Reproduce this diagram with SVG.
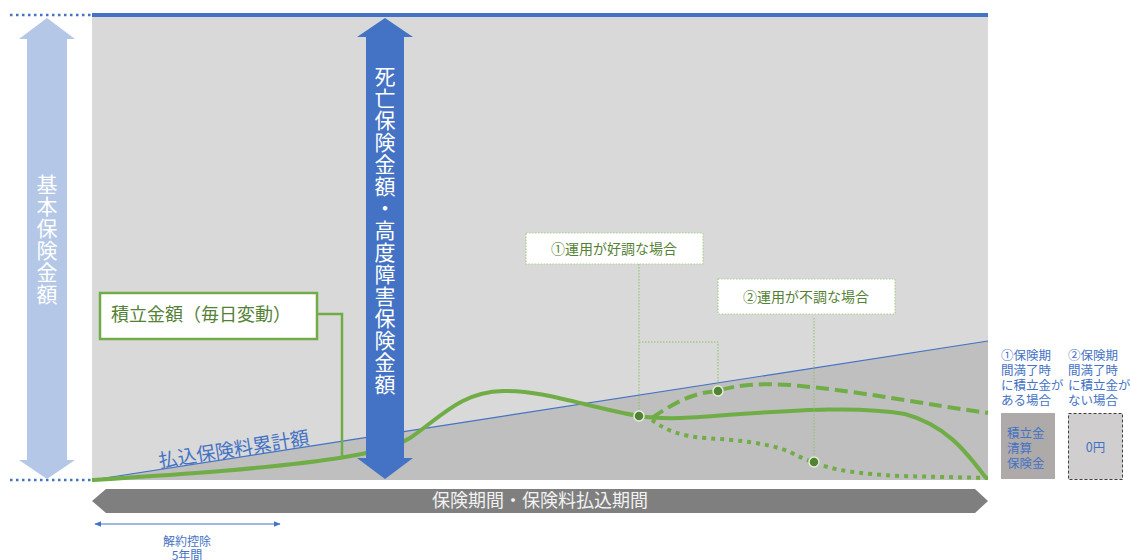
<svg xmlns="http://www.w3.org/2000/svg" width="1130" height="560" viewBox="0 0 1130 560">
<style>
.jp{font-family:"Noto Sans CJK JP","Noto Sans",sans-serif}
.vt{writing-mode:vertical-rl;fill:#ffffff;font-size:21px;letter-spacing:1px}
.cl{fill:#ffffff;stroke:#a9d18e;stroke-width:1.2;stroke-dasharray:1.5 1.5}
.ct{fill:#548235;font-size:14px;text-anchor:middle}
.lead{fill:none;stroke:#8cc06a;stroke-width:1;stroke-dasharray:1.5 1.5}
.curve{fill:none;stroke:#70ad47;stroke-width:4}
.dot{fill:#548235;stroke:#e2efda;stroke-width:1.5}
.rt{fill:#4472c4;font-size:12.5px}
</style>
<defs>
<marker id="ah" viewBox="0 0 10 10" refX="9" refY="5" markerWidth="7" markerHeight="7" orient="auto-start-reverse" markerUnits="userSpaceOnUse">
<path d="M0,1 L10,5 L0,9 Z" fill="#4472c4"/>
</marker>
</defs>

<g id="background">
<rect x="92" y="15" width="896" height="465" fill="#d9d9d9"/>
<polygon points="92,480 988,341 988,480" fill="#bfbfbf"/>
<line x1="92" y1="15" x2="988" y2="15" stroke="#4472c4" stroke-width="4"/>
<line x1="10" y1="15" x2="92" y2="15" stroke="#4472c4" stroke-width="2.5" stroke-dasharray="2.5 3.5"/>
<line x1="10" y1="480" x2="92" y2="480" stroke="#4472c4" stroke-width="2.5" stroke-dasharray="2.5 3.5"/>
</g>

<g id="premium-line">
<line x1="92" y1="480" x2="988" y2="341" stroke="#4472c4" stroke-width="1.2"/>
<text class="jp" transform="translate(234,450) rotate(-9)" x="0" y="6" text-anchor="middle" font-size="19" fill="#4472c4">払込保険料累計額</text>
</g>

<g id="connectors">
<path class="curve" d="M92,480 C170,475 280,468 345,457 C375,452 395,447 410,438 C440,418 460,392 503,391 C545,390 590,408 639,416 C665,420 690,418 740,414 C800,410 860,406 905,414 C945,425 965,450 986,478"/>
<path class="curve" stroke-dasharray="13 6" d="M652,418 C675,402 695,392 718,391 C735,385 760,383 790,385 C860,391 930,405 988,413"/>
<path class="curve" stroke-dasharray="4 5" d="M652,420 C665,430 680,436 705,438 C735,440 765,442 790,452 C800,457 806,460 814,462 C830,470 860,474 900,476 L988,478"/>
<polyline points="317,314 342,314 342,458" fill="none" stroke="#70ad47" stroke-width="2.5"/>
<polyline class="lead" points="639,264 639,416"/>
<polyline class="lead" points="639,342 718,342 718,391"/>
<polyline class="lead" points="814,318 814,462"/>
<line x1="95" y1="524" x2="280" y2="524" stroke="#4472c4" stroke-width="1.2" marker-start="url(#ah)" marker-end="url(#ah)"/>
</g>

<g id="base-amount-arrow">
<polygon points="47,18 75,39 67,39 67,460 75,460 47,479 19,460 27,460 27,39 19,39" fill="#b4c7e7"/>
<text class="jp vt" x="47" y="174">基本保険金額</text>
</g>

<g id="death-benefit-arrow">
<polygon points="385,18 413,37 404,37 404,458 413,458 385,479 357,458 366,458 366,37 357,37" fill="#4472c4"/>
<text class="jp vt" x="385" y="66">死亡保険金額・高度障害保険金額</text>
</g>

<g id="dots">
<circle class="dot" cx="639" cy="416" r="5"/>
<circle class="dot" cx="718" cy="391" r="5"/>
<circle class="dot" cx="814" cy="462" r="5"/>
</g>

<g id="reserve-label">
<rect x="100" y="293" width="217" height="46" fill="#ffffff" stroke="#70ad47" stroke-width="2.5"/>
<text class="jp" x="111" y="321" font-size="18" fill="#548235">積立金額（毎日変動）</text>
</g>

<g id="callout-good">
<rect class="cl" x="526" y="233" width="177" height="31"/>
<text class="jp ct" x="614" y="254">①運用が好調な場合</text>
</g>

<g id="callout-bad">
<rect class="cl" x="718" y="279" width="177" height="35"/>
<text class="jp ct" x="806" y="302">②運用が不調な場合</text>
</g>

<g id="period-arrow">
<polygon points="92,501 106,489 975,489 988,501 975,513 106,513" fill="#7f7f7f"/>
<text class="jp" x="540" y="507" text-anchor="middle" font-size="18" fill="#f2f2f2">保険期間・保険料払込期間</text>
</g>

<g id="surrender-period">
<text class="jp" x="187" y="546" text-anchor="middle" font-size="12" fill="#4472c4">解約控除<tspan x="187" dy="14">5年間</tspan></text>
</g>

<g id="maturity-case1">
<text class="jp rt" x="1001" y="360">①保険期<tspan x="1001" dy="15">間満了時</tspan><tspan x="1001" dy="15">に積立金が</tspan><tspan x="1001" dy="15">ある場合</tspan></text>
<rect x="1001" y="413" width="54" height="66" fill="#aeaaaa"/>
<text class="jp rt" x="1007" y="438" font-size="12">積立金<tspan x="1007" dy="15">清算</tspan><tspan x="1007" dy="15">保険金</tspan></text>
</g>

<g id="maturity-case2">
<text class="jp rt" x="1068" y="360">②保険期<tspan x="1068" dy="15">間満了時</tspan><tspan x="1068" dy="15">に積立金が</tspan><tspan x="1068" dy="15">ない場合</tspan></text>
<rect x="1068.5" y="413.5" width="54" height="66" fill="#d0cece" stroke="#404040" stroke-width="1" stroke-dasharray="3 2"/>
<text class="jp rt" x="1095.5" y="452" font-size="12" text-anchor="middle">0円</text>
</g>
</svg>
